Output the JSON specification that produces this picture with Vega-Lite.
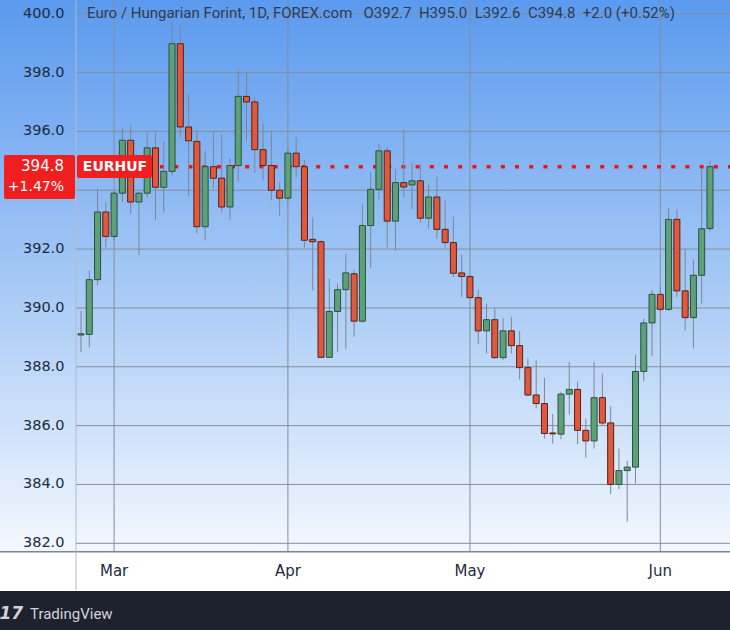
{
  "$schema": "https://vega.github.io/schema/vega-lite/v6.json",
  "width": 730,
  "height": 630,
  "autosize": {"type": "none"},
  "padding": 0,
  "background": "#ffffff",
  "config": {
    "font": "DejaVu Sans",
    "view": {
      "stroke": null,
      "fill": {
        "gradient": "linear", "x1": 0, "y1": 0, "x2": 0, "y2": 1,
        "stops": [
          {"offset": 0, "color": "#5b9aee"},
          {"offset": 0.45, "color": "#a6c9f5"},
          {"offset": 0.876, "color": "#f3f8fe"},
          {"offset": 0.877, "color": "#ffffff"},
          {"offset": 0.938, "color": "#ffffff"},
          {"offset": 0.9385, "color": "#1e222d"},
          {"offset": 1, "color": "#1e222d"}
        ]
      }
    }
  },
  "datasets": {
    "candles": [
      {"date": "2024-02-26", "i": 0, "o": 389.08, "h": 389.9, "l": 388.5, "c": 389.12},
      {"date": "2024-02-27", "i": 1, "o": 389.1, "h": 391.27, "l": 388.66, "c": 390.96},
      {"date": "2024-02-28", "i": 2, "o": 390.96, "h": 394.07, "l": 390.77, "c": 393.26},
      {"date": "2024-02-29", "i": 3, "o": 393.26, "h": 393.6, "l": 392.05, "c": 392.43},
      {"date": "2024-03-01", "i": 4, "o": 392.43, "h": 394.0, "l": 392.3, "c": 393.9},
      {"date": "2024-03-04", "i": 5, "o": 393.9, "h": 396.1, "l": 393.6, "c": 395.7},
      {"date": "2024-03-05", "i": 6, "o": 395.7, "h": 396.25, "l": 393.2, "c": 393.6},
      {"date": "2024-03-06", "i": 7, "o": 393.6, "h": 393.95, "l": 391.8, "c": 393.9},
      {"date": "2024-03-07", "i": 8, "o": 393.9, "h": 395.97, "l": 393.75, "c": 395.44},
      {"date": "2024-03-08", "i": 9, "o": 395.44, "h": 395.97, "l": 392.99, "c": 394.1},
      {"date": "2024-03-11", "i": 10, "o": 394.1, "h": 395.66, "l": 393.24, "c": 394.64},
      {"date": "2024-03-12", "i": 11, "o": 394.64, "h": 399.72, "l": 394.5, "c": 398.98},
      {"date": "2024-03-13", "i": 12, "o": 398.98, "h": 399.6, "l": 395.8, "c": 396.15},
      {"date": "2024-03-14", "i": 13, "o": 396.15, "h": 397.27, "l": 393.8, "c": 395.68},
      {"date": "2024-03-15", "i": 14, "o": 395.66, "h": 395.97, "l": 392.53, "c": 392.76},
      {"date": "2024-03-18", "i": 15, "o": 392.76, "h": 395.34, "l": 392.3, "c": 394.8},
      {"date": "2024-03-19", "i": 16, "o": 394.8, "h": 396.02, "l": 394.07, "c": 394.41},
      {"date": "2024-03-20", "i": 17, "o": 394.41, "h": 395.9, "l": 393.24, "c": 393.43},
      {"date": "2024-03-21", "i": 18, "o": 393.43, "h": 395.1, "l": 392.98, "c": 394.84},
      {"date": "2024-03-22", "i": 19, "o": 394.84, "h": 398.1, "l": 394.3, "c": 397.19},
      {"date": "2024-03-25", "i": 20, "o": 397.19, "h": 397.98, "l": 395.68, "c": 397.0},
      {"date": "2024-03-26", "i": 21, "o": 397.0, "h": 397.16, "l": 394.6, "c": 395.38},
      {"date": "2024-03-27", "i": 22, "o": 395.38, "h": 396.27, "l": 394.35, "c": 394.84},
      {"date": "2024-03-28", "i": 23, "o": 394.84, "h": 396.02, "l": 393.66, "c": 394.0},
      {"date": "2024-03-29", "i": 24, "o": 394.0, "h": 394.28, "l": 393.13, "c": 393.73},
      {"date": "2024-04-01", "i": 25, "o": 393.73, "h": 395.45, "l": 393.6, "c": 395.26},
      {"date": "2024-04-02", "i": 26, "o": 395.26, "h": 395.8, "l": 394.43, "c": 394.8},
      {"date": "2024-04-03", "i": 27, "o": 394.8, "h": 395.02, "l": 392.05, "c": 392.3},
      {"date": "2024-04-04", "i": 28, "o": 392.33, "h": 393.07, "l": 390.6, "c": 392.25},
      {"date": "2024-04-05", "i": 29, "o": 392.25, "h": 392.3, "l": 388.3, "c": 388.32},
      {"date": "2024-04-08", "i": 30, "o": 388.32, "h": 391.0, "l": 388.3, "c": 389.88},
      {"date": "2024-04-09", "i": 31, "o": 389.88, "h": 390.83, "l": 388.51, "c": 390.62},
      {"date": "2024-04-10", "i": 32, "o": 390.62, "h": 391.84, "l": 388.6, "c": 391.19},
      {"date": "2024-04-11", "i": 33, "o": 391.16, "h": 391.3, "l": 389.02, "c": 389.55},
      {"date": "2024-04-12", "i": 34, "o": 389.55, "h": 393.52, "l": 389.5, "c": 392.8},
      {"date": "2024-04-15", "i": 35, "o": 392.8, "h": 394.6, "l": 391.36, "c": 394.03},
      {"date": "2024-04-16", "i": 36, "o": 394.03, "h": 395.57, "l": 393.7, "c": 395.34},
      {"date": "2024-04-17", "i": 37, "o": 395.34, "h": 395.45, "l": 392.05, "c": 392.95},
      {"date": "2024-04-18", "i": 38, "o": 392.95, "h": 394.72, "l": 391.95, "c": 394.26},
      {"date": "2024-04-19", "i": 39, "o": 394.26, "h": 396.06, "l": 393.77, "c": 394.11},
      {"date": "2024-04-22", "i": 40, "o": 394.18, "h": 394.92, "l": 393.35, "c": 394.32},
      {"date": "2024-04-23", "i": 41, "o": 394.32, "h": 394.89, "l": 392.9, "c": 393.05},
      {"date": "2024-04-24", "i": 42, "o": 393.05, "h": 394.2, "l": 392.69, "c": 393.77},
      {"date": "2024-04-25", "i": 43, "o": 393.77, "h": 394.45, "l": 392.36, "c": 392.67},
      {"date": "2024-04-26", "i": 44, "o": 392.67, "h": 393.64, "l": 392.05, "c": 392.22},
      {"date": "2024-04-29", "i": 45, "o": 392.22, "h": 393.1, "l": 391.05, "c": 391.18},
      {"date": "2024-04-30", "i": 46, "o": 391.19, "h": 391.8, "l": 390.37, "c": 391.07},
      {"date": "2024-05-01", "i": 47, "o": 391.07, "h": 391.1, "l": 390.3, "c": 390.35},
      {"date": "2024-05-02", "i": 48, "o": 390.35, "h": 390.62, "l": 388.77, "c": 389.22},
      {"date": "2024-05-03", "i": 49, "o": 389.22, "h": 390.15, "l": 388.45, "c": 389.6},
      {"date": "2024-05-06", "i": 50, "o": 389.6, "h": 389.98, "l": 388.28, "c": 388.31},
      {"date": "2024-05-07", "i": 51, "o": 388.31, "h": 389.64, "l": 388.24, "c": 389.22},
      {"date": "2024-05-08", "i": 52, "o": 389.22, "h": 389.7, "l": 388.45, "c": 388.72},
      {"date": "2024-05-09", "i": 53, "o": 388.72, "h": 389.22, "l": 387.57, "c": 387.97},
      {"date": "2024-05-10", "i": 54, "o": 387.97, "h": 388.28, "l": 387.0, "c": 387.04},
      {"date": "2024-05-13", "i": 55, "o": 387.04, "h": 388.22, "l": 386.58, "c": 386.75},
      {"date": "2024-05-14", "i": 56, "o": 386.75, "h": 387.62, "l": 385.56, "c": 385.73},
      {"date": "2024-05-15", "i": 57, "o": 385.75, "h": 386.39, "l": 385.39, "c": 385.72},
      {"date": "2024-05-16", "i": 58, "o": 385.71, "h": 387.15, "l": 385.53, "c": 387.07},
      {"date": "2024-05-17", "i": 59, "o": 387.07, "h": 388.17, "l": 386.38, "c": 387.23},
      {"date": "2024-05-20", "i": 60, "o": 387.23, "h": 387.5, "l": 385.37, "c": 385.84},
      {"date": "2024-05-21", "i": 61, "o": 385.84, "h": 386.24, "l": 384.9, "c": 385.48},
      {"date": "2024-05-22", "i": 62, "o": 385.48, "h": 388.17, "l": 385.22, "c": 386.95},
      {"date": "2024-05-23", "i": 63, "o": 386.95, "h": 387.77, "l": 386.01, "c": 386.09},
      {"date": "2024-05-24", "i": 64, "o": 386.09, "h": 386.66, "l": 383.67, "c": 384.0},
      {"date": "2024-05-27", "i": 65, "o": 384.0, "h": 385.22, "l": 383.84, "c": 384.47},
      {"date": "2024-05-28", "i": 66, "o": 384.47, "h": 384.8, "l": 382.73, "c": 384.59},
      {"date": "2024-05-29", "i": 67, "o": 384.59, "h": 388.41, "l": 384.03, "c": 387.84},
      {"date": "2024-05-30", "i": 68, "o": 387.84, "h": 389.64, "l": 387.51, "c": 389.49},
      {"date": "2024-05-31", "i": 69, "o": 389.49, "h": 390.6, "l": 388.36, "c": 390.46},
      {"date": "2024-06-03", "i": 70, "o": 390.46, "h": 390.7, "l": 389.9, "c": 389.95},
      {"date": "2024-06-04", "i": 71, "o": 389.95, "h": 393.39, "l": 389.9, "c": 393.01},
      {"date": "2024-06-05", "i": 72, "o": 393.01, "h": 393.35, "l": 390.37, "c": 390.58},
      {"date": "2024-06-06", "i": 73, "o": 390.58, "h": 391.99, "l": 389.22, "c": 389.67},
      {"date": "2024-06-07", "i": 74, "o": 389.67, "h": 391.65, "l": 388.62, "c": 391.11},
      {"date": "2024-06-10", "i": 75, "o": 391.11, "h": 394.77, "l": 390.15, "c": 392.69},
      {"date": "2024-06-11", "i": 76, "o": 392.7, "h": 395.0, "l": 392.6, "c": 394.8}
    ],
    "grid": [
      {"v": 382}, {"v": 384}, {"v": 386}, {"v": 388}, {"v": 390},
      {"v": 392}, {"v": 394}, {"v": 396}, {"v": 398}, {"v": 400}
    ],
    "months": [
      {"i": 4, "name": "Mar"}, {"i": 25, "name": "Apr"}, {"i": 47, "name": "May"}, {"i": 70, "name": "Jun"}
    ]
  },
  "layer": [
    {
      "data": {"name": "grid"},
      "mark": {"type": "rule", "color": "#858d9a", "strokeWidth": 1},
      "encoding": {
        "y": {"field": "v", "type": "quantitative", "axis": null,
              "scale": {"domain": [379.053, 400.466], "nice": false, "zero": false}},
        "x": {"datum": -0.604, "type": "quantitative", "axis": null,
              "scale": {"domain": [-9.787, 78.42], "nice": false, "zero": false, "padding": 0}},
        "x2": {"datum": 78.42}
      }
    },
    {
      "data": {"name": "grid"},
      "transform": [{"filter": "datum.v != 394"}],
      "mark": {"type": "text", "color": "#1e2a40", "font": "DejaVu Sans", "fontSize": 14.5, "align": "right", "baseline": "middle"},
      "encoding": {
        "y": {"field": "v", "type": "quantitative", "axis": null},
        "x": {"datum": -2.0, "type": "quantitative", "axis": null},
        "text": {"field": "v", "type": "quantitative", "format": ".1f"}
      }
    },
    {
      "data": {"name": "months"},
      "mark": {"type": "rule", "color": "#858d9a", "strokeWidth": 1},
      "encoding": {
        "x": {"field": "i", "type": "quantitative", "axis": null},
        "y": {"datum": 400.466, "type": "quantitative", "axis": null},
        "y2": {"datum": 381.715}
      }
    },
    {
      "data": {"name": "months"},
      "mark": {"type": "text", "color": "#1e2a40", "font": "DejaVu Sans", "fontSize": 15, "align": "center", "baseline": "middle"},
      "encoding": {
        "x": {"field": "i", "type": "quantitative", "axis": null},
        "y": {"datum": 381.06, "type": "quantitative", "axis": null},
        "text": {"field": "name", "type": "nominal"}
      }
    },
    {
      "data": {"values": [{}]},
      "mark": {"type": "rule", "color": "#7d8694", "strokeWidth": 1.5},
      "encoding": {
        "y": {"datum": 381.715, "type": "quantitative", "axis": null}
      }
    },
    {
      "data": {"values": [{}]},
      "mark": {"type": "rule", "color": "#b3bcc8", "strokeWidth": 1},
      "encoding": {
        "x": {"datum": -0.604, "type": "quantitative", "axis": null},
        "y": {"datum": 400.466, "type": "quantitative", "axis": null},
        "y2": {"datum": 380.41}
      }
    },
    {
      "data": {"values": [{}]},
      "mark": {"type": "rule", "color": "#e8141c", "strokeWidth": 3.5, "strokeDash": [4, 10.2]},
      "encoding": {
        "y": {"datum": 394.8, "type": "quantitative", "axis": null},
        "x": {"datum": 9.55, "type": "quantitative", "axis": null},
        "x2": {"datum": 78.42}
      }
    },
    {
      "data": {"name": "candles"},
      "mark": {"type": "rule", "color": "#7d8695", "strokeWidth": 1},
      "encoding": {
        "x": {"field": "i", "type": "quantitative", "axis": null},
        "y": {"field": "l", "type": "quantitative", "axis": null},
        "y2": {"field": "h"}
      }
    },
    {
      "data": {"name": "candles"},
      "mark": {"type": "bar", "width": 6, "strokeWidth": 1, "orient": "vertical"},
      "encoding": {
        "x": {"field": "i", "type": "quantitative", "axis": null},
        "y": {"field": "o", "type": "quantitative", "axis": null},
        "y2": {"field": "c"},
        "fill": {"condition": {"test": "datum.c >= datum.o", "value": "#5fa07a"}, "value": "#dd5a3e"},
        "stroke": {"condition": {"test": "datum.c >= datum.o", "value": "#24543b"}, "value": "#5a1f14"}
      }
    },
    {
      "data": {"values": [{}]},
      "mark": {"type": "rect", "color": "#f01e1e", "cornerRadius": 2},
      "encoding": {
        "x": {"datum": -0.483, "type": "quantitative", "axis": null},
        "x2": {"datum": 8.58},
        "y": {"datum": 395.198, "type": "quantitative", "axis": null},
        "y2": {"datum": 394.416}
      }
    },
    {
      "data": {"values": [{}]},
      "mark": {"type": "text", "text": "EURHUF", "color": "#ffffff", "font": "DejaVu Sans", "fontSize": 14, "fontWeight": "bold", "align": "center", "baseline": "middle"},
      "encoding": {
        "x": {"datum": 4.11, "type": "quantitative", "axis": null},
        "y": {"datum": 394.79, "type": "quantitative", "axis": null}
      }
    },
    {
      "data": {"values": [{}]},
      "mark": {"type": "rect", "color": "#f01e1e", "cornerRadius": 2},
      "encoding": {
        "x": {"datum": -9.3, "type": "quantitative", "axis": null},
        "x2": {"datum": -0.725},
        "y": {"datum": 395.198, "type": "quantitative", "axis": null},
        "y2": {"datum": 393.702}
      }
    },
    {
      "data": {"values": [{}]},
      "mark": {"type": "text", "text": "394.8", "color": "#ffffff", "font": "DejaVu Sans", "fontSize": 15, "align": "right", "baseline": "middle"},
      "encoding": {
        "x": {"datum": -2.05, "type": "quantitative", "axis": null},
        "y": {"datum": 394.82, "type": "quantitative", "axis": null}
      }
    },
    {
      "data": {"values": [{}]},
      "mark": {"type": "text", "text": "+1.47%", "color": "#ffffff", "font": "DejaVu Sans", "fontSize": 14, "align": "right", "baseline": "middle"},
      "encoding": {
        "x": {"datum": -2.05, "type": "quantitative", "axis": null},
        "y": {"datum": 394.11, "type": "quantitative", "axis": null}
      }
    },
    {
      "data": {"values": [{}]},
      "mark": {"type": "text", "text": "Euro / Hungarian Forint, 1D, FOREX.com\u00a0\u00a0\u00a0O392.7\u00a0\u00a0H395.0\u00a0\u00a0L392.6\u00a0\u00a0C394.8\u00a0\u00a0+2.0 (+0.52%)", "color": "#2d3b55", "font": "Roboto", "fontSize": 15, "align": "left", "baseline": "middle"},
      "encoding": {
        "x": {"datum": 0.725, "type": "quantitative", "axis": null},
        "y": {"datum": 400.024, "type": "quantitative", "axis": null}
      }
    },
    {
      "data": {"values": [{}]},
      "mark": {"type": "text", "text": "17", "color": "#d1d4dc", "font": "DejaVu Sans", "fontSize": 17, "fontWeight": "bold", "fontStyle": "italic", "align": "left", "baseline": "middle"},
      "encoding": {
        "x": {"datum": -9.85, "type": "quantitative", "axis": null},
        "y": {"datum": 379.6, "type": "quantitative", "axis": null}
      }
    },
    {
      "data": {"values": [{}]},
      "mark": {"type": "text", "text": "TradingView", "color": "#d1d4dc", "font": "Roboto", "fontSize": 15, "align": "left", "baseline": "middle"},
      "encoding": {
        "x": {"datum": -6.16, "type": "quantitative", "axis": null},
        "y": {"datum": 379.596, "type": "quantitative", "axis": null}
      }
    }
  ]
}
